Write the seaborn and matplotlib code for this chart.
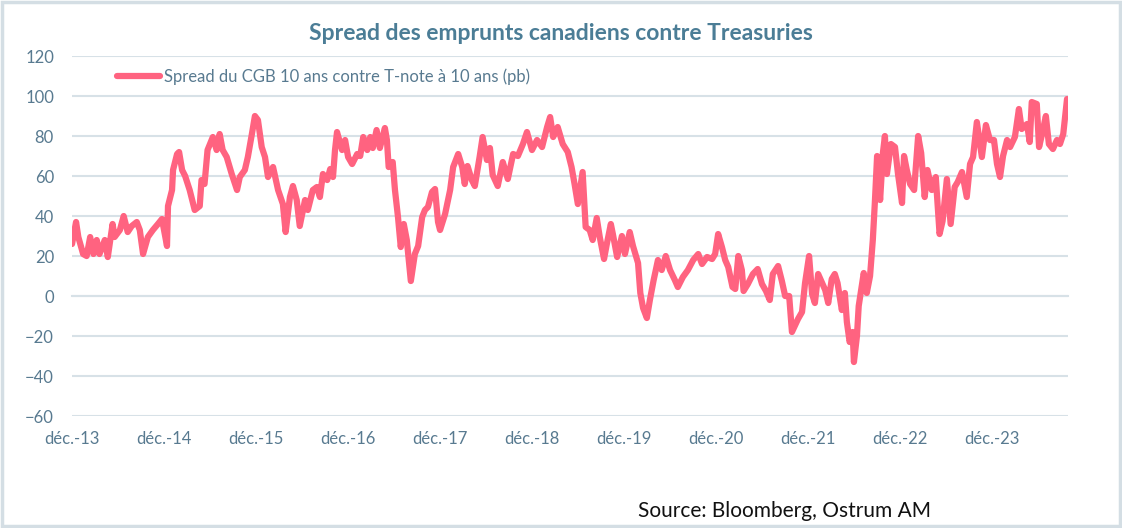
import pandas as pd
import matplotlib.pyplot as plt
import matplotlib.dates as mdates
from matplotlib.patches import Rectangle
import seaborn as sns

# Spread CGB 10y vs T-note 10y (bp)
dates = [
    # 2013-14
    "2013-12-01", "2013-12-17", "2013-12-26", "2014-01-14", "2014-01-28", "2014-02-11",
    "2014-02-24", "2014-03-09", "2014-03-20", "2014-04-10", "2014-04-22", "2014-05-11",
    "2014-05-19", "2014-06-09", "2014-06-24", "2014-07-10", "2014-07-26", "2014-08-15",
    "2014-08-27", "2014-09-09", "2014-09-28", "2014-10-18", "2014-11-07", "2014-11-23",
    # 2014-15
    "2014-12-13", "2014-12-17", "2015-01-02", "2015-01-06", "2015-01-22", "2015-01-30",
    "2015-02-11", "2015-02-23", "2015-03-13", "2015-04-02", "2015-04-22", "2015-04-29",
    "2015-05-11", "2015-05-23", "2015-06-13", "2015-06-28", "2015-07-10", "2015-07-22",
    "2015-08-07", "2015-08-27", "2015-09-17", "2015-09-28", "2015-10-18", "2015-10-30",
    "2015-11-15", "2015-11-27",
    # 2015-16
    "2015-12-09", "2015-12-24", "2016-01-06", "2016-01-18", "2016-02-07", "2016-02-27",
    "2016-03-17", "2016-03-28", "2016-04-14", "2016-04-26", "2016-05-11", "2016-05-23",
    "2016-06-13", "2016-06-24", "2016-07-14", "2016-07-30", "2016-08-11", "2016-08-23",
    "2016-09-09", "2016-09-21", "2016-10-02", "2016-10-10", "2016-10-18", "2016-11-07",
    "2016-11-19",
    # 2016-17
    "2016-12-01", "2016-12-17", "2017-01-06", "2017-01-18", "2017-01-30", "2017-02-15",
    "2017-02-27", "2017-03-09", "2017-03-24", "2017-04-06", "2017-04-26", "2017-05-04",
    "2017-05-11", "2017-05-27", "2017-06-05", "2017-06-17", "2017-06-28", "2017-07-10",
    "2017-07-22", "2017-08-07", "2017-08-23", "2017-09-05", "2017-09-21", "2017-10-02",
    "2017-10-14", "2017-10-30", "2017-11-11", "2017-11-23",
    # 2017-18
    "2017-12-01", "2017-12-21", "2018-01-10", "2018-01-22", "2018-02-11", "2018-02-27",
    "2018-03-09", "2018-03-20", "2018-04-06", "2018-04-18", "2018-05-07", "2018-05-19",
    "2018-06-05", "2018-06-17", "2018-06-28", "2018-07-18", "2018-08-07", "2018-08-27",
    "2018-09-17", "2018-10-06", "2018-10-26", "2018-11-11",
    # 2018-19
    "2018-12-01", "2018-12-21", "2019-01-10", "2019-01-30", "2019-02-11", "2019-02-23",
    "2019-03-13", "2019-04-02", "2019-04-22", "2019-05-07", "2019-05-19", "2019-06-01",
    "2019-06-20", "2019-07-02", "2019-07-18", "2019-07-30", "2019-08-15", "2019-08-27",
    "2019-09-13", "2019-09-24", "2019-10-10", "2019-10-18", "2019-11-04", "2019-11-23",
    # 2019-20
    "2019-12-05", "2019-12-24", "2020-01-06", "2020-01-26", "2020-02-04", "2020-02-15",
    "2020-03-01", "2020-03-13", "2020-03-28", "2020-04-14", "2020-04-29", "2020-05-15",
    "2020-06-01", "2020-06-20", "2020-07-02", "2020-07-22", "2020-08-11", "2020-09-01",
    "2020-09-21", "2020-10-06", "2020-10-26", "2020-11-15",
    # 2020-21
    "2020-11-27", "2020-12-09", "2020-12-24", "2021-01-06", "2021-01-18", "2021-02-04",
    "2021-02-15", "2021-02-27", "2021-03-13", "2021-03-20", "2021-04-06", "2021-04-26",
    "2021-05-15", "2021-06-01", "2021-06-17", "2021-07-02", "2021-07-14", "2021-08-04",
    "2021-08-19", "2021-09-01", "2021-09-17", "2021-09-28", "2021-10-22", "2021-11-07",
    "2021-11-19",
    # 2021-22
    "2021-12-05", "2021-12-17", "2021-12-28", "2022-01-10", "2022-01-26", "2022-02-07",
    "2022-02-19", "2022-03-05", "2022-03-17", "2022-03-28", "2022-04-14", "2022-04-26",
    "2022-05-04", "2022-05-15", "2022-05-27", "2022-06-01", "2022-06-13", "2022-06-20",
    "2022-07-02", "2022-07-10", "2022-07-22", "2022-08-04", "2022-08-15", "2022-08-23",
    "2022-09-01", "2022-09-13", "2022-09-24", "2022-10-02", "2022-10-10", "2022-10-26",
    "2022-11-11", "2022-11-23",
    # 2022-23
    "2022-12-09", "2022-12-17", "2022-12-28", "2023-01-10", "2023-01-26", "2023-02-11",
    "2023-02-23", "2023-03-09", "2023-03-20", "2023-04-06", "2023-04-22", "2023-05-07",
    "2023-05-19", "2023-06-05", "2023-06-20", "2023-07-06", "2023-07-18", "2023-08-04",
    "2023-08-23", "2023-09-05", "2023-09-17", "2023-10-02", "2023-10-22", "2023-11-07",
    "2023-11-23",
    # 2023-24
    "2023-12-09", "2023-12-21", "2024-01-02", "2024-01-14", "2024-01-30", "2024-02-11",
    "2024-03-01", "2024-03-17", "2024-03-28", "2024-04-18", "2024-04-29", "2024-05-07",
    "2024-05-27", "2024-06-05", "2024-06-17", "2024-07-02", "2024-07-14", "2024-07-30",
    "2024-08-15", "2024-08-27", "2024-09-09", "2024-09-24",
]

spread = [
    # 2013-14
    26, 37, 29.5, 21, 20, 29.5, 21, 28, 21, 28, 19.5, 36,
    29.5, 33, 40, 32, 35, 37, 33, 21, 29.5, 33, 36, 38.5,
    # 2014-15
    25, 45, 53, 63, 71, 72, 63, 60, 53, 43, 45, 58,
    56, 73, 79.5, 73, 81, 73, 69.5, 61, 53, 59.5, 63, 69.5,
    81, 90,
    # 2015-16
    88, 74.5, 69.5, 59.5, 64.5, 53, 46, 32, 49.5, 55, 48, 35,
    48, 43, 53, 54.5, 49.5, 61, 58, 63.5, 59.5, 73, 82, 73,
    78,
    # 2016-17
    69.5, 66, 71, 70, 79.5, 73, 79.5, 74, 83, 74, 84, 78,
    64.5, 67, 53, 39.5, 24.5, 36, 28, 7.5, 21, 25, 39.5, 43,
    44.5, 52, 53.5, 37,
    # 2017-18
    33, 41, 53, 64.5, 71, 64.5, 56, 65, 58, 55, 69.5, 79.5,
    68, 74, 60.5, 55, 67, 58.5, 71, 70, 76, 82,
    # 2018-19
    73, 78, 74.5, 84.5, 89.5, 79.5, 84.5, 76, 72, 64.5, 56, 46,
    62, 34.5, 33, 28, 39, 29.5, 18.5, 26, 36, 31, 19.5, 30,
    # 2019-20
    21, 32, 25, 16.5, 1.5, -6, -11, -2, 8, 18, 13, 20,
    13, 8, 4.5, 9.5, 13, 18, 21, 16, 19.5, 18.5,
    # 2020-21
    21, 31, 24.5, 18, 14.5, 4.5, 3.5, 20, 13, 2.5, 6, 11,
    13.5, 6, 2.5, -2, 11, 15, 7.5, 0, 0, -18, -11.5, -8,
    6.5,
    # 2021-22
    20, 1, -3.5, 11, 6.5, 3, -3.5, 8.5, 11, 6.5, -7, 1.5,
    -13, -23, -18, -33, -20, -5, 5, 11.5, 1.5, 10, 28, 46.5,
    70, 48, 71.5, 80, 61, 76, 74.5, 61,
    # 2022-23
    46.5, 70, 63, 56, 53, 80, 71.5, 49.5, 63, 53, 59.5, 31,
    37.5, 58.5, 36, 54.5, 57, 62, 49.5, 66, 69.5, 87, 69.5, 85.5,
    78,
    # 2023-24
    78, 66, 59.5, 70, 78, 74.5, 79.5, 93.5, 83.5, 86, 77, 97,
    96, 74.5, 81, 90, 76, 73.5, 78, 76, 81, 98.5,
]

tick_dates = ["2013-12-01", "2014-12-01", "2015-12-01", "2016-12-01", "2017-12-01", "2018-12-01",
              "2019-12-01", "2020-12-01", "2021-12-01", "2022-12-01", "2023-12-01"]
tick_labels = ["déc.-13", "déc.-14", "déc.-15", "déc.-16", "déc.-17", "déc.-18",
               "déc.-19", "déc.-20", "déc.-21", "déc.-22", "déc.-23"]
y_ticks = [-60, -40, -20, 0, 20, 40, 60, 80, 100, 120]

title = "Spread des emprunts canadiens contre Treasuries"
series_label = "Spread du CGB 10 ans contre T-note à 10 ans (pb)"
source = "Source: Bloomberg, Ostrum AM"

line_color = "#FF6380"
grid_color = "#D7E1E7"
text_color = "#587A90"
title_color = "#4B7D96"

assert len(dates) == len(spread)
df = pd.DataFrame({"date": pd.to_datetime(dates), "spread": spread})

sns.set_theme(style="white")
plt.rcParams["font.family"] = ["Lato", "DejaVu Sans"]

fig = plt.figure(figsize=(11.22, 5.28), dpi=100)
ax = fig.add_axes([0.0642, 0.2121, 0.8877, 0.6818])

sns.lineplot(data=df, x="date", y="spread", ax=ax, color=line_color, linewidth=4.5,
             label=series_label, zorder=3, solid_joinstyle="round")

ax.set_xlim(pd.Timestamp("2013-12-01"), pd.Timestamp("2024-09-28"))
ax.set_ylim(-60, 120)
ax.set_yticks(y_ticks)
ax.set_xlabel("")
ax.set_ylabel("")

# horizontal grid, axis line on zero with small tick marks
ax.grid(axis="y", color=grid_color, linewidth=1.5)
ax.grid(axis="x", visible=False)
for s in ["left", "top", "right"]:
    ax.spines[s].set_visible(False)
ax.spines["bottom"].set_position(("data", 0))
ax.spines["bottom"].set_color(grid_color)
ax.spines["bottom"].set_linewidth(1.5)
ax.set_xticks(pd.to_datetime(tick_dates))
ax.tick_params(axis="x", direction="out", length=4, width=1.5, color=grid_color, labelbottom=False)
ax.tick_params(axis="y", length=0, pad=13, labelsize=12, labelcolor=text_color)

# date labels below the plot area
sec = ax.secondary_xaxis("bottom")
sec.set_xticks(mdates.date2num(pd.to_datetime(tick_dates)), tick_labels)
sec.tick_params(length=0, pad=11, labelsize=12, labelcolor=text_color)
sec.spines["bottom"].set_visible(False)

ax.legend(loc="center left", bbox_to_anchor=(0.045, 0.9417), frameon=False, borderpad=0,
          borderaxespad=0, handlelength=2.6, handletextpad=0.2, fontsize=12,
          labelcolor=text_color)

fig.text(0.5, 0.9375, title, ha="center", va="center", fontsize=16.5, fontweight="bold",
         color=title_color)
fig.text(0.5686, 0.032, source, ha="left", va="center", fontsize=15, color="#111111")

fig.patches.append(Rectangle((0.002, 0.003), 0.996, 0.994, transform=fig.transFigure,
                             fill=False, edgecolor="#D4DEE4", linewidth=2.5))

fig.savefig("out.png", dpi=100, facecolor="white")
